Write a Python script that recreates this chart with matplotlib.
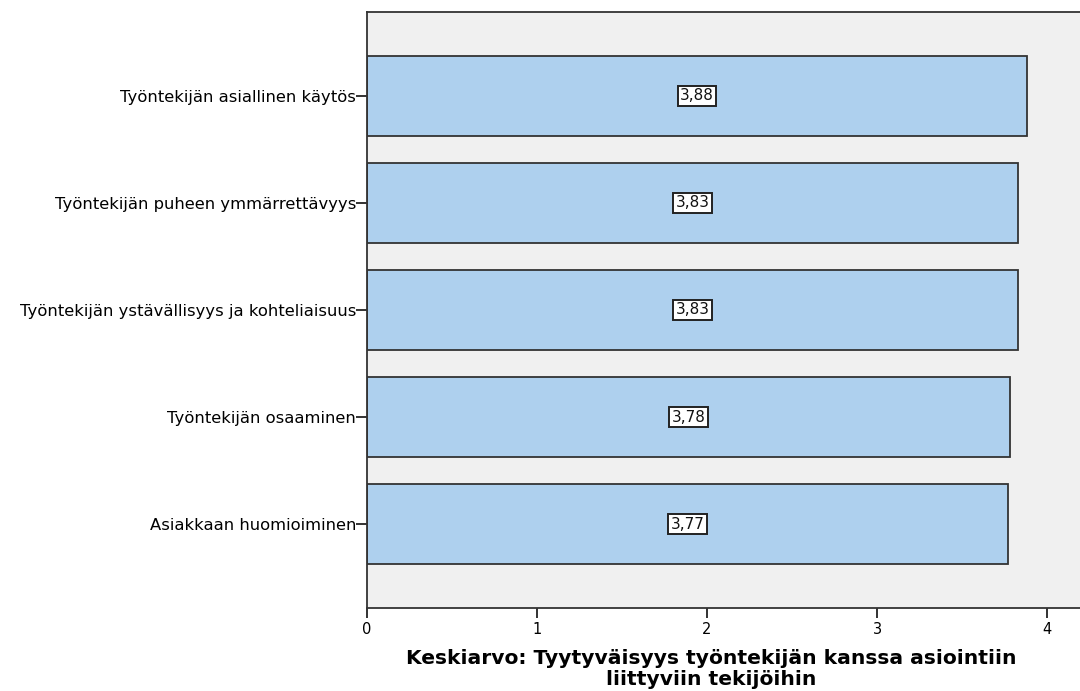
import matplotlib

matplotlib.use("Agg")
import matplotlib.pyplot as plt

categories = [
    "Työntekijän asiallinen käytös",
    "Työntekijän puheen ymmärrettävyys",
    "Työntekijän ystävällisyys ja kohteliaisuus",
    "Työntekijän osaaminen",
    "Asiakkaan huomioiminen",
]
means = [3.88, 3.83, 3.83, 3.78, 3.77]
xticks = [0, 1, 2, 3, 4]

plt.rcParams["font.family"] = ["DejaVu Sans"]

W, H = 1080, 691
fig = plt.figure(figsize=(W / 100, H / 100), dpi=100)
left, right, top, bottom = 367, 1080, 12, 608
ax = fig.add_axes([left / W, 1 - bottom / H, (right - left) / W, (bottom - top) / H])
ax.set_facecolor("#f0f0f0")

ypos = list(range(len(categories)))
ax.barh(ypos, means, height=0.75, color="#aed0ee", edgecolor="#333333", linewidth=1.3)
for y, v in zip(ypos, means):
    ax.text(v / 2, y, f"{v:.2f}".replace(".", ","), ha="center", va="center",
            fontsize=11, color="#111111",
            bbox=dict(boxstyle="square,pad=0.15", fc="white", ec="#222222", lw=1.4))

ax.set_xlim(0, (right - left) / 170)
ax.set_ylim(4.785, -0.785)
ax.set_yticks(ypos)
ax.set_yticklabels(categories, fontsize=11.8)
ax.set_xticks(xticks)
ax.set_xticklabels([str(t) for t in xticks], fontsize=10.5)
ax.tick_params(axis="y", length=8, width=1.3, pad=0, color="#222222")
ax.tick_params(axis="x", length=7, width=1.3, pad=3, color="#222222")
ax.spines["right"].set_visible(False)
for s in ["left", "bottom", "top"]:
    ax.spines[s].set_color("#333333")
    ax.spines[s].set_linewidth(1.3)

fig.text(711 / W, 1 - 669 / H, "Keskiarvo: Tyytyväisyys työntekijän kanssa asiointiin\nliittyviin tekijöihin",
         ha="center", va="center", fontsize=14.6, fontweight="bold", linespacing=1.1)

fig.savefig("out.png", dpi=100)
plt.close(fig)
